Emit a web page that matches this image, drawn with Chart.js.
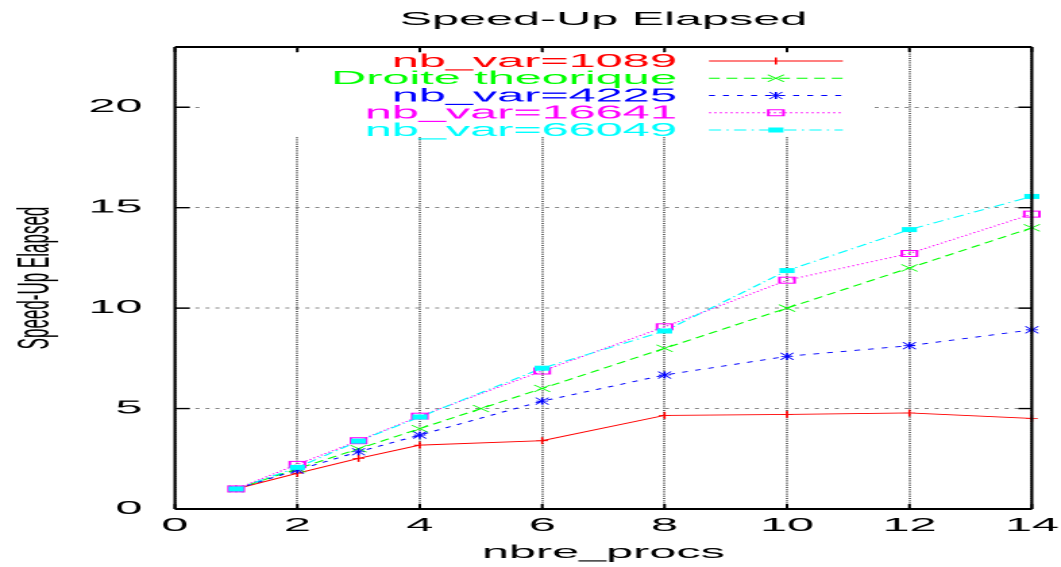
<!DOCTYPE html>
<html>
<head>
<meta charset="utf-8">
<title>Speed-Up Elapsed</title>
<script src="https://cdn.jsdelivr.net/npm/chart.js@4/dist/chart.umd.min.js"></script>
<style>
  html, body { margin: 0; padding: 0; background: #fff; overflow: hidden; }
  /* the plot is laid out narrow and stretched sideways, like the old gnuplot output */
  #wrap { width: 393px; height: 567px; transform: scaleX(2.6997); transform-origin: 0 0; }
</style>
</head>
<body>
<div id="wrap"><canvas id="speedup" width="393" height="567"></canvas></div>
<script>
// number of processes
const procs = [1, 2, 3, 4, 6, 8, 10, 12, 14];
const procsTheo = [1, 2, 3, 4, 5, 6, 8, 10, 12, 14];

// measured speed-up per problem size
const speedup1089 = [1, 1.78, 2.52, 3.18, 3.40, 4.66, 4.71, 4.78, 4.51];
const speedupTheo = [1, 2, 3, 4, 5, 6, 8, 10, 12, 14];
const speedup4225 = [1, 1.94, 2.85, 3.68, 5.37, 6.67, 7.60, 8.13, 8.92];
const speedup16641 = [1, 2.22, 3.40, 4.62, 6.87, 9.07, 11.39, 12.72, 14.68];
const speedup66049 = [1, 2.07, 3.38, 4.58, 7.01, 8.86, 11.87, 13.91, 15.56];

const xTicks = [0, 2, 4, 6, 8, 10, 12, 14];
const yTicks = [0, 5, 10, 15, 20];

const series = [
  { label: 'nb_var=1089', xs: procs, ys: speedup1089, color: '#ff0000', dash: [], marker: 'plus' },
  { label: 'Droite theorique', xs: procsTheo, ys: speedupTheo, color: '#00ff00', dash: [4, 2.5], marker: 'cross' },
  { label: 'nb_var=4225', xs: procs, ys: speedup4225, color: '#0000ff', dash: [2.2, 3], marker: 'star' },
  { label: 'nb_var=16641', xs: procs, ys: speedup16641, color: '#ff00ff', dash: [0.8, 1.2], marker: 'box' },
  { label: 'nb_var=66049', xs: procs, ys: speedup66049, color: '#00ffff', dash: [4.5, 2, 0.8, 2], marker: 'boxFill' }
];

// gnuplot-like point symbols
const markers = {
  plus(ctx, x, y) {
    ctx.lineWidth = 0.8;
    ctx.beginPath();
    ctx.moveTo(x - 2.2, y); ctx.lineTo(x + 2.2, y);
    ctx.moveTo(x, y - 3.5); ctx.lineTo(x, y + 3.5);
    ctx.stroke();
  },
  cross(ctx, x, y) {
    ctx.lineWidth = 0.6;
    ctx.beginPath();
    ctx.moveTo(x - 3, y - 3.5); ctx.lineTo(x + 3, y + 3.5);
    ctx.moveTo(x - 3, y + 3.5); ctx.lineTo(x + 3, y - 3.5);
    ctx.stroke();
  },
  star(ctx, x, y) {
    markers.plus(ctx, x, y);
    ctx.lineWidth = 0.6;
    ctx.beginPath();
    ctx.moveTo(x - 2.4, y - 3.5); ctx.lineTo(x + 2.4, y + 3.5);
    ctx.moveTo(x - 2.4, y + 3.5); ctx.lineTo(x + 2.4, y - 3.5);
    ctx.stroke();
  },
  box(ctx, x, y) {
    ctx.lineWidth = 1;
    ctx.strokeRect(x - 2.8, y - 3, 5.6, 6);
  },
  boxFill(ctx, x, y) {
    ctx.fillRect(x - 2.8, y - 2.5, 5.6, 5);
  }
};

const gnuplotLook = {
  id: 'gnuplotLook',
  beforeDatasetsDraw(chart) {
    // the key sits on an opaque box that hides the grid behind it
    const ctx = chart.ctx;
    ctx.save();
    ctx.fillStyle = '#fff';
    ctx.fillRect(75.9, 53, 246.3, 84);
    ctx.restore();
  },
  afterDatasetsDraw(chart) {
    const ctx = chart.ctx;
    const area = chart.chartArea;
    const xs = chart.scales.x;
    const ys = chart.scales.y;

    ctx.save();
    // point symbols
    series.forEach((s, i) => {
      const meta = chart.getDatasetMeta(i);
      ctx.strokeStyle = s.color;
      ctx.fillStyle = s.color;
      meta.data.forEach(pt => markers[s.marker](ctx, pt.x, pt.y));
    });

    // border
    ctx.strokeStyle = '#000';
    ctx.lineWidth = 2;
    ctx.beginPath();
    ctx.moveTo(area.left, area.top); ctx.lineTo(area.right, area.top);
    ctx.moveTo(area.left, area.bottom); ctx.lineTo(area.right, area.bottom);
    ctx.stroke();
    ctx.lineWidth = 1.1;
    ctx.beginPath();
    ctx.moveTo(area.left, area.top); ctx.lineTo(area.left, area.bottom);
    ctx.moveTo(area.right, area.top); ctx.lineTo(area.right, area.bottom);
    ctx.stroke();

    // inward tick marks on all four sides
    ctx.lineWidth = 1.4;
    ctx.beginPath();
    ys.ticks.forEach(t => {
      const py = ys.getPixelForValue(t.value);
      ctx.moveTo(area.left, py); ctx.lineTo(area.left + 5.5, py);
      ctx.moveTo(area.right, py); ctx.lineTo(area.right - 5, py);
    });
    ctx.stroke();
    ctx.lineWidth = 1;
    ctx.beginPath();
    xs.ticks.forEach(t => {
      const px = xs.getPixelForValue(t.value);
      ctx.moveTo(px, area.bottom); ctx.lineTo(px, area.bottom - 5);
      ctx.moveTo(px, area.top); ctx.lineTo(px, area.top + 5);
    });
    ctx.stroke();

    // key: label, line sample, symbol
    ctx.font = '18px "Liberation Sans"';
    ctx.textAlign = 'right';
    ctx.textBaseline = 'middle';
    series.forEach((s, i) => {
      const y = 61 + i * 17.25;
      ctx.fillStyle = s.color;
      ctx.fillText(s.label, 250.7, y + 1);
      ctx.strokeStyle = s.color;
      ctx.lineWidth = 0.9;
      ctx.setLineDash(s.dash);
      ctx.beginPath();
      ctx.moveTo(262.6, y); ctx.lineTo(312.2, y);
      ctx.stroke();
      ctx.setLineDash([]);
      markers[s.marker](ctx, 287.4, y);
    });
    ctx.restore();
  }
};

Chart.defaults.font.family = '"Liberation Sans", Arial, sans-serif';
Chart.defaults.color = '#000';

new Chart(document.getElementById('speedup'), {
  type: 'line',
  data: {
    datasets: series.map((s, i) => ({
      label: s.label,
      data: s.xs.map((x, j) => ({ x: x, y: s.ys[j] })),
      borderColor: s.color,
      backgroundColor: s.color,
      borderWidth: 0.9,
      borderDash: s.dash,
      pointRadius: 0,
      tension: 0,
      fill: false,
      order: series.length - i
    }))
  },
  options: {
    responsive: false,
    devicePixelRatio: 2,
    animation: false,
    events: [],
    layout: { padding: { left: 0, right: 10.8, top: 0, bottom: 0 } },
    plugins: {
      legend: { display: false },
      tooltip: { enabled: false },
      title: {
        display: true,
        text: 'Speed-Up Elapsed',
        fullSize: false,
        font: { size: 18, weight: 'normal' },
        padding: { top: 9, bottom: 16.4 }
      }
    },
    scales: {
      x: {
        type: 'linear',
        min: 0,
        max: 14,
        afterBuildTicks: s => { s.ticks = xTicks.map(v => ({ value: v })); },
        afterFit: s => { s.height = 58; s.paddingLeft = 0; s.paddingRight = 0; },
        ticks: { font: { size: 18 }, padding: 6, maxRotation: 0 },
        grid: { color: '#444', lineWidth: 0.8, drawTicks: false },
        border: { display: false, dash: [1, 1.2] },
        title: { display: true, text: 'nbre_procs', font: { size: 18 }, padding: { top: 0, bottom: 3 } }
      },
      y: {
        min: 0,
        max: 23,
        afterBuildTicks: s => { s.ticks = yTicks.map(v => ({ value: v })); },
        afterFit: s => { s.width = 64.8; s.paddingTop = 0; s.paddingBottom = 0; },
        ticks: { font: { size: 18 }, padding: 12 },
        grid: { color: '#888', lineWidth: 1, drawTicks: false },
        border: { display: false, dash: [1.5, 2.2] },
        title: { display: true, text: 'Speed-Up Elapsed', font: { size: 17 }, padding: { top: 3, bottom: 0 } }
      }
    }
  },
  plugins: [gnuplotLook]
});
</script>
</body>
</html>
